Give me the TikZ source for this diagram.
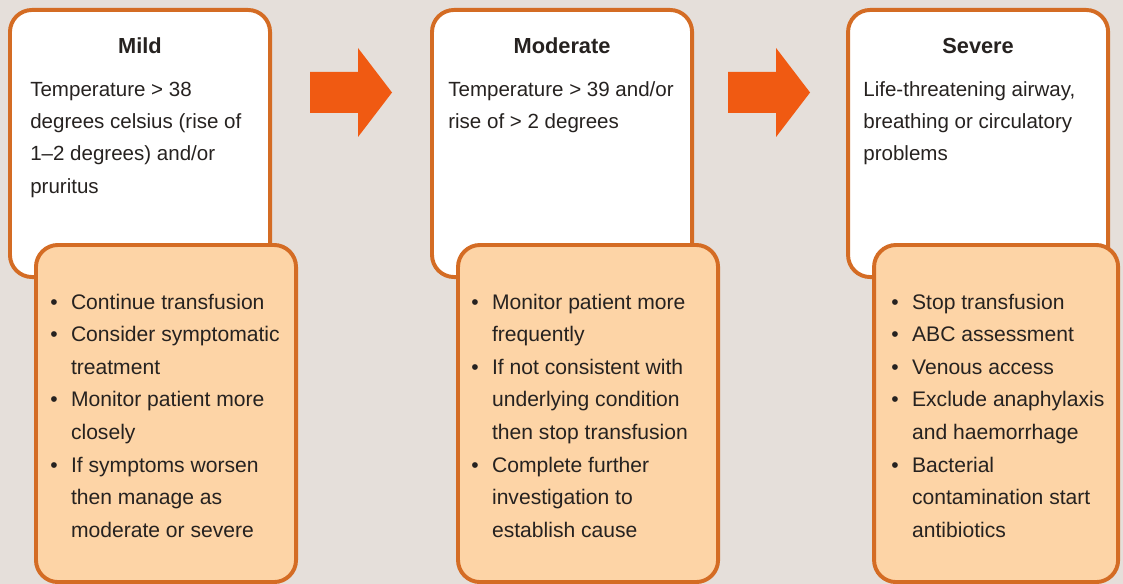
\documentclass[tikz,border=0pt]{standalone}
\usepackage{fontspec}
\setmainfont{Liberation Sans}
\usetikzlibrary{positioning}
\definecolor{bgcol}{RGB}{229,223,218}
\definecolor{edgecol}{RGB}{212,108,36}
\definecolor{peach}{RGB}{253,212,166}
\definecolor{arrowcol}{RGB}{240,90,18}
\definecolor{inkcol}{RGB}{38,34,32}
\tikzstyle{whitebox} = [rectangle, draw=edgecol, line width=2.8pt, fill=white, rounded corners=0.55cm, minimum width=6.5cm, minimum height=6.675cm, inner sep=0pt, anchor=north west]
\tikzstyle{actionbox} = [whitebox, fill=peach, minimum height=8.425cm]
\tikzstyle{heading} = [inner sep=0pt, anchor=base, text=inkcol, font=\fontsize{15.5}{23}\selectfont\bfseries]
\tikzstyle{bodytext} = [inner sep=0pt, anchor=base west, text=inkcol, font=\fontsize{14.6}{23}\selectfont]
\tikzstyle{bullets} = [bodytext, font=\fontsize{15}{23.2}\selectfont]
\tikzset{bigarrow/.pic={\fill[arrowcol] (0,-20.5) -- (48,-20.5) -- (48,-44.5) -- (82,0) -- (48,44.5) -- (48,20.5) -- (0,20.5) -- cycle;}}

\begin{document}
\begin{tikzpicture}[x=0.025cm, y=-0.025cm]
\fill[bgcol] (0,0) rectangle (1123,584);
\useasboundingbox (0,0) rectangle (1123,584);

% upper boxes
\node [whitebox] (mildtop) at (8,8) {};
\node [whitebox, right=3.95cm of mildtop] (modtop) {};
\node [whitebox, right=3.8cm of modtop] (sevtop) {};

\node [heading] at ([yshift=-1.125cm]mildtop.north) {Mild};
\node [heading] at ([yshift=-1.125cm]modtop.north) {Moderate};
\node [heading] at ([yshift=-1.125cm]sevtop.north) {Severe};

\node [bodytext] (mildtxt) at ([xshift=0.55cm, yshift=-2.2cm]mildtop.north west) {\begin{tabular}[t]{@{}l@{}}
Temperature > 38\\ degrees celsius (rise of\\ 1–2 degrees) and/or\\ pruritus\end{tabular}};
\node [bodytext] (modtxt) at ([xshift=0.45cm, yshift=-2.2cm]modtop.north west) {\begin{tabular}[t]{@{}l@{}}
Temperature > 39 and/or\\ rise of > 2 degrees\end{tabular}};
\node [bodytext] (sevtxt) at ([xshift=0.425cm, yshift=-2.2cm]sevtop.north west) {\begin{tabular}[t]{@{}l@{}}
Life-threatening airway,\\ breathing or circulatory\\ problems\end{tabular}};

% lower boxes with the actions
\node [actionbox] (mildact) at ([shift={(26,-36)}]mildtop.south west) {};
\node [actionbox] (modact) at ([shift={(26,-36)}]modtop.south west) {};
\node [actionbox, minimum width=6.1cm] (sevact) at ([shift={(26,-36)}]sevtop.south west) {};

\node [bullets] (mildlist) at ([xshift=0.4cm, yshift=-1.65cm]mildact.north west) {\begin{tabular}[t]{@{}l@{\hspace{9.5pt}}l@{}}
\textbullet & Continue transfusion\\
\textbullet & Consider symptomatic\\ & treatment\\
\textbullet & Monitor patient more\\ & closely\\
\textbullet & If symptoms worsen\\ & then manage as\\ & moderate or severe\end{tabular}};
\node [bullets] (modlist) at ([xshift=0.375cm, yshift=-1.65cm]modact.north west) {\begin{tabular}[t]{@{}l@{\hspace{9.5pt}}l@{}}
\textbullet & Monitor patient more\\ & frequently\\
\textbullet & If not consistent with\\ & underlying condition\\ & then stop transfusion\\
\textbullet & Complete further\\ & investigation to\\ & establish cause\end{tabular}};
\node [bullets] (sevlist) at ([xshift=0.475cm, yshift=-1.65cm]sevact.north west) {\begin{tabular}[t]{@{}l@{\hspace{9.5pt}}l@{}}
\textbullet & Stop transfusion\\
\textbullet & ABC assessment\\
\textbullet & Venous access\\
\textbullet & Exclude anaphylaxis\\ & and haemorrhage\\
\textbullet & Bacterial\\ & contamination start\\ & antibiotics\end{tabular}};

% the big arrows between the columns
\pic at ([shift={(38,84.5)}]mildtop.north east) {bigarrow};
\pic at ([shift={(34,84.5)}]modtop.north east) {bigarrow};

\end{tikzpicture}
\end{document}
